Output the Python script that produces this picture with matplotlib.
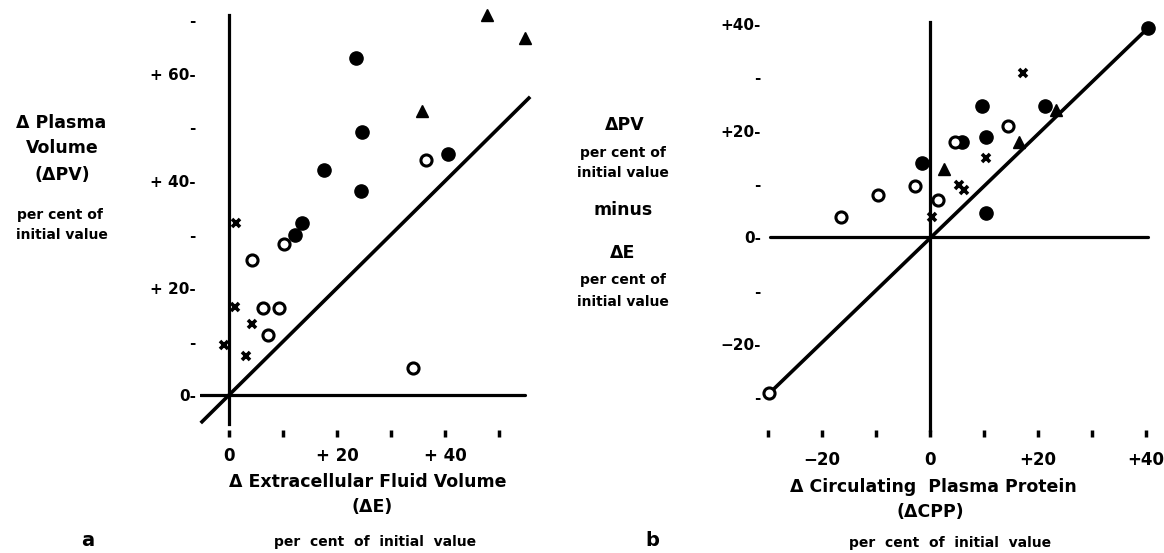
import matplotlib
matplotlib.use("Agg")
import matplotlib.pyplot as plt

plt.rcParams["font.family"] = ["DejaVu Sans"]
plt.rcParams["font.weight"] = "bold"

W, H = 1164, 553

# panel a: delta E (x) vs delta PV (y), per cent of initial value
a_filled_x = [23.5, 24.6, 40.6, 17.6, 24.4, 13.5, 12.3]
a_filled_y = [62.9, 49.1, 45.0, 42.1, 38.1, 32.1, 30.0]
a_open_x = [36.4, 10.2, 4.3, 6.2, 9.2, 7.2, 34.1]
a_open_y = [43.9, 28.2, 25.2, 16.2, 16.2, 11.2, 5.1]
a_tri_x = [47.7, 54.7, 35.7]
a_tri_y = [71.0, 66.7, 53.0]
a_cross_x = [1.3, 1.2, 4.2, -0.9, 3.1]
a_cross_y = [32.1, 16.5, 13.3, 9.3, 7.3]

# panel b: delta CPP (x) vs delta PV minus delta E (y)
b_filled_x = [40.3, 9.6, 21.3, 10.4, 5.9, -1.4, 10.3]
b_filled_y = [39.2, 24.6, 24.6, 18.9, 17.9, 13.9, 4.6]
b_open_x = [-29.9, -16.5, -9.6, -2.7, 1.4, 4.6, 14.5]
b_open_y = [-29.2, 3.9, 7.9, 9.7, 7.0, 17.9, 20.8]
b_tri_x = [2.5, 16.5, 23.3]
b_tri_y = [12.9, 17.9, 23.9]
b_cross_x = [17.3, 10.4, 5.4, 6.3, 0.3]
b_cross_y = [30.8, 14.8, 9.8, 8.9, 3.9]


def px(x, y):
    return x / W, 1 - y / H


def draw_points(ax, fx, fy, ox, oy, tx, ty, cx, cy):
    ax.plot(fx, fy, "o", color="black", ms=9.5, clip_on=False, zorder=4)
    ax.plot(ox, oy, "o", mfc="white", mec="black", mew=2.2, ms=8, clip_on=False, zorder=4)
    ax.plot(tx, ty, "^", color="black", ms=8.5, clip_on=False, zorder=4)
    ax.plot(cx, cy, "x", color="black", mew=2.6, ms=6, clip_on=False, zorder=4)


fig = plt.figure(figsize=(W / 100, H / 100), dpi=100)

# ---- panel a
ax1 = fig.add_axes([200 / W, 1 - 430 / H, 344 / W, 430 / H])
ax1.set_xlim(-5.37, 58.3)
ax1.set_ylim(-6.54, 73.83)
ax1.set_frame_on(False)
ax1.plot([-5.4, 54.8], [0, 0], color="black", lw=2.3, solid_capstyle="round")
ax1.plot([0, 0], [-5.4, 71], color="black", lw=2.3)
ax1.plot([-5, 55.5], [-5, 55.5], color="black", lw=2.6, clip_on=False)
draw_points(ax1, a_filled_x, a_filled_y, a_open_x, a_open_y,
            a_tri_x, a_tri_y, a_cross_x, a_cross_y)
ax1.set_xticks([0, 20, 40], ["0", "+ 20", "+ 40"])
ax1.set_xticks([10, 30, 50], minor=True)
ax1.set_yticks([0, 20, 40, 60], ["0-", "+ 20-", "+ 40-", "+ 60-"])
ax1.set_yticks([10, 30, 50, 70], ["-", "-", "-", "-"], minor=True)
ax1.tick_params(axis="x", which="both", direction="out", length=5, width=2.5, pad=7, labelsize=12)
ax1.tick_params(axis="y", which="both", length=0, pad=3, labelsize=11)

# ---- panel b
ax2 = fig.add_axes([765 / W, 1 - 430 / H, 390 / W, 430 / H])
ax2.set_xlim(-30.56, 41.67)
ax2.set_ylim(-36.15, 44.52)
ax2.set_frame_on(False)
ax2.plot([-29.6, 40.4], [0, 0], color="black", lw=2.3, solid_capstyle="round")
ax2.plot([0, 0], [-36.15, 40.4], color="black", lw=2.3, clip_on=False)
ax2.plot([-30, 40.3], [-29.5, 39.2], color="black", lw=2.6, clip_on=False)
draw_points(ax2, b_filled_x, b_filled_y, b_open_x, b_open_y,
            b_tri_x, b_tri_y, b_cross_x, b_cross_y)
ax2.set_xticks([-20, 0, 20, 40], ["\u221220", "0", "+20", "+40"])
ax2.set_xticks([-30, -10, 10, 30], minor=True)
ax2.set_yticks([-20, 0, 20, 40], ["\u221220-", "0-", "+20-", "+40-"])
ax2.set_yticks([-30, -10, 10, 30], ["-", "-", "-", "-"], minor=True)
ax2.tick_params(axis="x", which="both", direction="out", length=5, width=2.5, pad=10, labelsize=12)
ax2.tick_params(axis="y", which="both", length=0, pad=3, labelsize=11)

# ---- text labels
big = dict(ha="center", va="center", fontsize=12.5, fontweight="bold")
small = dict(ha="center", va="center", fontsize=10, fontweight="bold")

fig.text(*px(61, 123), "\u0394 Plasma", **big)
fig.text(*px(62, 148), "Volume", **big)
fig.text(*px(62, 175), "(\u0394PV)", **big)
fig.text(*px(60, 215), "per cent of", **small)
fig.text(*px(62, 235), "initial value", **small)

fig.text(*px(625, 125), "\u0394PV", **big)
fig.text(*px(623, 153), "per cent of", **small)
fig.text(*px(623, 173), "initial value", **small)
fig.text(*px(623, 210), "minus", **big)
fig.text(*px(623, 253), "\u0394E", **big)
fig.text(*px(623, 280), "per cent of", **small)
fig.text(*px(623, 302), "initial value", **small)

fig.text(*px(368, 482), "\u0394 Extracellular Fluid Volume", **big)
fig.text(*px(372, 507), "(\u0394E)", **big)
fig.text(*px(375, 542), "per  cent  of  initial  value", **small)

fig.text(*px(933, 487), "\u0394 Circulating  Plasma Protein", **big)
fig.text(*px(930, 512), "(\u0394CPP)", **big)
fig.text(*px(950, 543), "per  cent  of  initial  value", **small)

fig.text(*px(88, 541), "a", ha="center", va="center", fontsize=14, fontweight="bold")
fig.text(*px(652, 541), "b", ha="center", va="center", fontsize=14, fontweight="bold")

fig.savefig("out.png", dpi=100)
